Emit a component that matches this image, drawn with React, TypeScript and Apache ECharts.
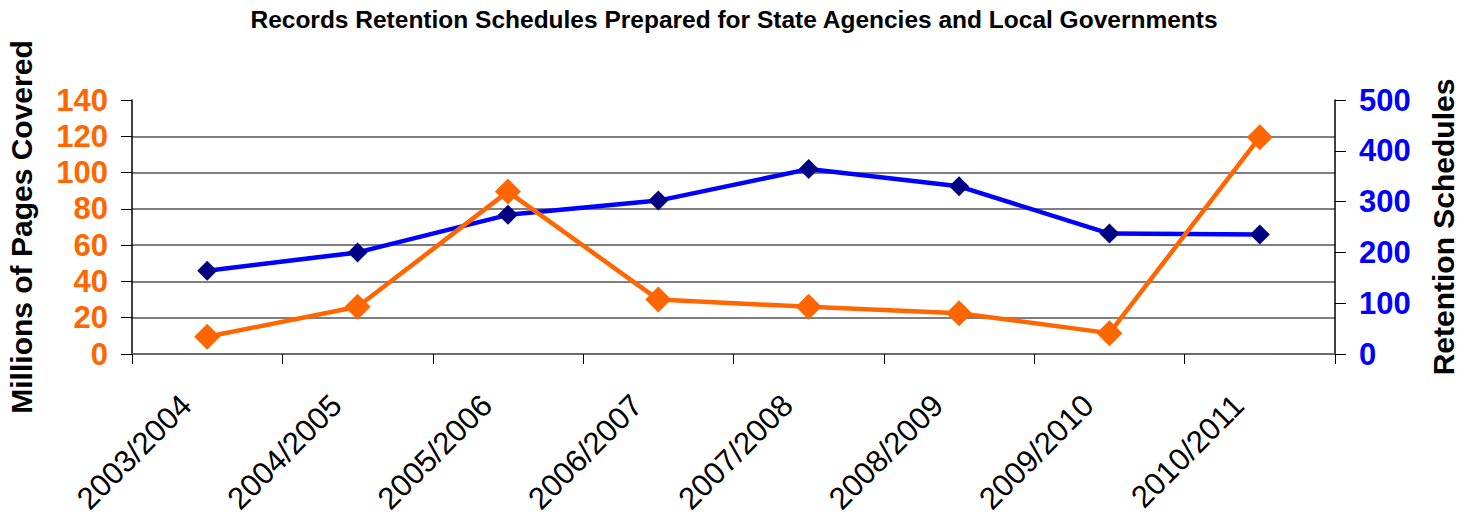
import React, { useEffect, useRef } from "react";
import * as echarts from "echarts";

const categories = [
  "2003/2004",
  "2004/2005",
  "2005/2006",
  "2006/2007",
  "2007/2008",
  "2008/2009",
  "2009/2010",
  "2010/2011",
];
const pagesMillions = [9.5, 26, 89.5, 30, 26, 22.5, 11.5, 119.5];
const retentionSchedules = [164, 200, 274, 302, 364, 330, 237, 235];
const leftTicks = { min: 0, max: 140, interval: 20 };
const rightTicks = { min: 0, max: 500, interval: 100 };

const FONT = "'Liberation Sans', Arial, Helvetica, sans-serif";

export default function App() {
  const ref = useRef<HTMLDivElement>(null);
  useEffect(() => {
    if (!ref.current) return;
    document.body.style.margin = "0";
    document.body.style.overflow = "hidden";
    const chart = echarts.init(ref.current, undefined, { renderer: "svg" });
    const gridColors = ["#555", "#555", "#555", "#555", "#555", "#555", "#555", "rgba(0,0,0,0)"];
    chart.setOption({
      animation: false,
      backgroundColor: "#fff",
      textStyle: { fontFamily: FONT },
      title: {
        text: "Records Retention Schedules Prepared for State Agencies and Local Governments",
        left: "center",
        top: 7,
        padding: 0,
        textStyle: { fontFamily: FONT, fontSize: 24.5, fontWeight: "bold", color: "#000" },
      },
      grid: {
        left: 132,
        right: 133,
        top: 100,
        bottom: 164,
        containLabel: false,
        outerBoundsMode: "none",
      },
      xAxis: {
        type: "category",
        data: categories,
        boundaryGap: true,
        axisLine: { lineStyle: { color: "#666", width: 1.5 } },
        axisTick: { show: true, length: 10, lineStyle: { color: "#000", width: 1 } },
        axisLabel: {
          rotate: 45,
          fontSize: 31,
          lineHeight: 31,
          color: "#000",
          fontFamily: FONT,
          margin: 25,
          padding: [0, 30, 0, 0],
          hideOverlap: false,
        },
        splitLine: { show: false },
      },
      yAxis: [
        {
          type: "value",
          min: leftTicks.min,
          max: leftTicks.max,
          interval: leftTicks.interval,
          position: "left",
          name: "Millions of Pages Covered",
          nameLocation: "middle",
          nameRotate: 90,
          nameGap: 96,
          nameTextStyle: { fontFamily: FONT, fontSize: 30, fontWeight: "bold", color: "#000" },
          axisLine: { show: true, lineStyle: { color: "#000", width: 1.5 } },
          axisTick: { show: true, length: 11, lineStyle: { color: "#000" } },
          axisLabel: { fontSize: 31, fontWeight: "bold", color: "#FF6600", fontFamily: FONT, margin: 24 },
          splitLine: { show: true, lineStyle: { color: gridColors, width: 1.5 } },
        },
        {
          type: "value",
          min: rightTicks.min,
          max: rightTicks.max,
          interval: rightTicks.interval,
          position: "right",
          name: "Retention Schedules",
          nameLocation: "middle",
          nameRotate: 90,
          nameGap: 93,
          nameTextStyle: { fontFamily: FONT, fontSize: 30, fontWeight: "bold", color: "#000" },
          axisLine: { show: true, lineStyle: { color: "#000", width: 1.5 } },
          axisTick: { show: true, length: 11, lineStyle: { color: "#000" } },
          axisLabel: { fontSize: 31, fontWeight: "bold", color: "#0000FF", fontFamily: FONT, margin: 24 },
          splitLine: { show: false },
        },
      ],
      series: [
        {
          name: "Retention Schedules",
          type: "line",
          yAxisIndex: 1,
          data: retentionSchedules,
          symbol: "diamond",
          symbolSize: 20,
          lineStyle: { color: "#0000FF", width: 4.5 },
          itemStyle: { color: "#000080" },
          z: 2,
        },
        {
          name: "Millions of Pages Covered",
          type: "line",
          yAxisIndex: 0,
          data: pagesMillions,
          symbol: "diamond",
          symbolSize: 26,
          lineStyle: { color: "#FF6600", width: 4.5 },
          itemStyle: { color: "#FF6600" },
          z: 3,
        },
      ],
    });
    return () => chart.dispose();
  }, []);
  return <div ref={ref} style={{ width: 1468, height: 518 }} />;
}
